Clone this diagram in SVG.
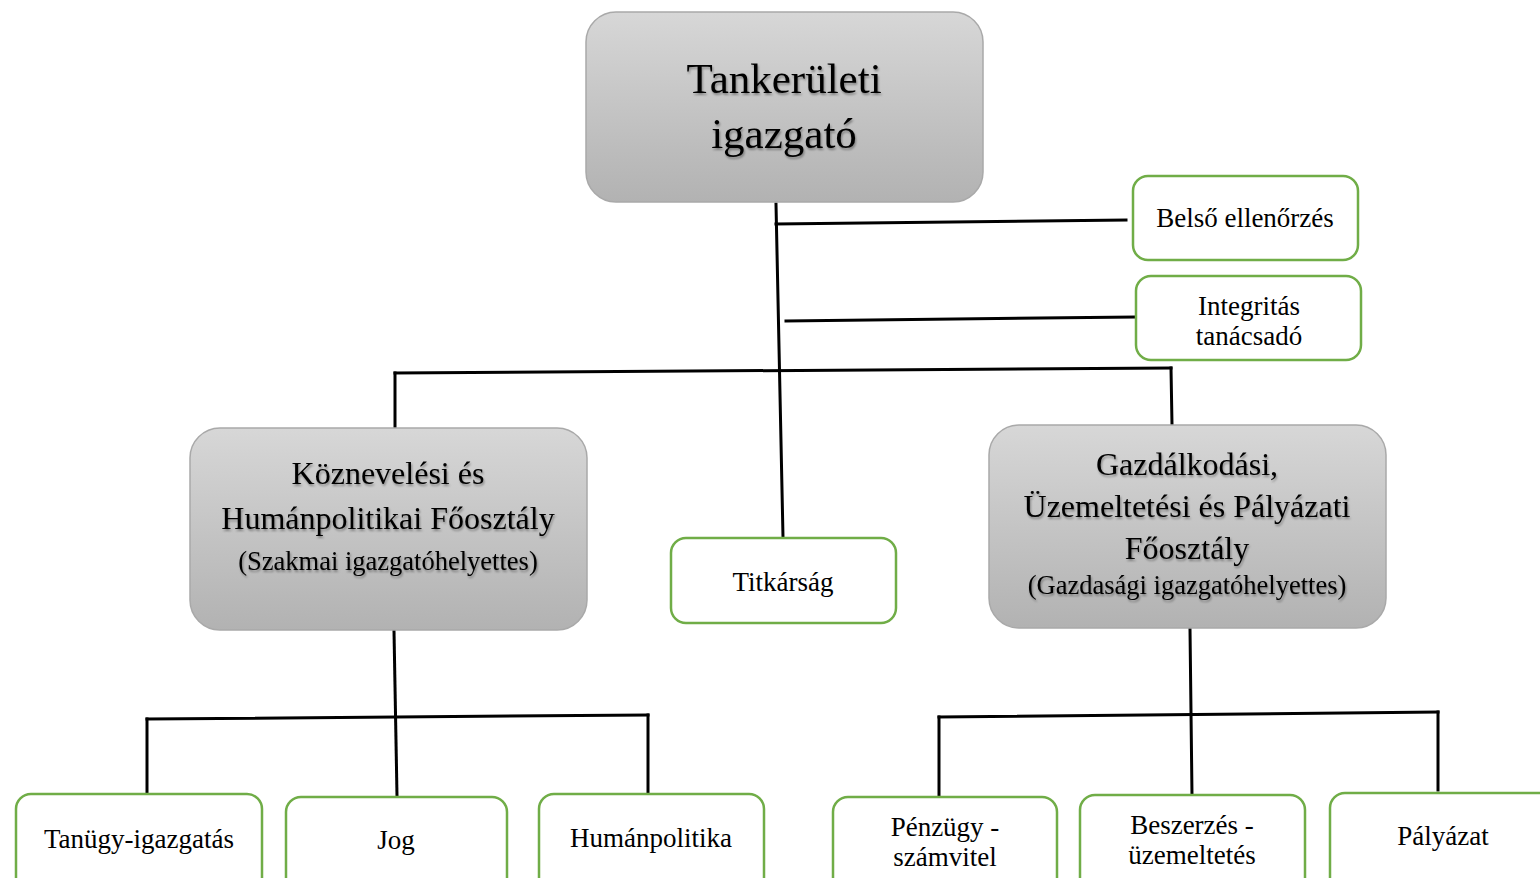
<svg xmlns="http://www.w3.org/2000/svg" width="1540" height="878" viewBox="0 0 1540 878">
<defs>
<linearGradient id="gray" x1="0" y1="0" x2="0" y2="1">
<stop offset="0" stop-color="#d7d7d7"/>
<stop offset="1" stop-color="#b2b2b2"/>
</linearGradient>
<filter id="ts" x="-10%" y="-20%" width="120%" height="150%">
<feDropShadow dx="1" dy="2" stdDeviation="1" flood-color="#000" flood-opacity="0.35"/>
</filter>
</defs>
<style>
.gray{fill:url(#gray);stroke:#a9a9a9;stroke-width:1.5}
.green{fill:#fff;stroke:#70ad47;stroke-width:2.5}
text{font-family:"Liberation Serif","Times New Roman",serif;fill:#000;text-anchor:middle}
.gt{filter:url(#ts)}
.s{font-size:27px}
.m{font-size:32px}
.sub{font-size:26.5px}
.c{stroke:#000;stroke-width:3;fill:none;stroke-linecap:square}
</style>
<rect width="1540" height="878" fill="#fff"/>
<g id="connectors">
<line class="c" x1="776" y1="204" x2="783" y2="537"/>
<line class="c" x1="776" y1="224" x2="1126" y2="220"/>
<line class="c" x1="786" y1="321" x2="1135" y2="317"/>
<line class="c" x1="395" y1="373" x2="1171" y2="368"/>
<line class="c" x1="395" y1="373" x2="395" y2="428"/>
<line class="c" x1="1171" y1="368" x2="1172" y2="424"/>
<line class="c" x1="394" y1="631" x2="397" y2="796"/>
<line class="c" x1="147" y1="719" x2="648" y2="715"/>
<line class="c" x1="147" y1="719" x2="147" y2="793"/>
<line class="c" x1="648" y1="715" x2="648" y2="794"/>
<line class="c" x1="1190" y1="629" x2="1192" y2="795"/>
<line class="c" x1="939" y1="717" x2="1438" y2="712"/>
<line class="c" x1="939" y1="717" x2="939" y2="796"/>
<line class="c" x1="1438" y1="712" x2="1438" y2="790"/>
</g>
<g id="n-igazgato">
<rect class="gray" x="586" y="12" width="397" height="190" rx="30"/>
<g class="gt" font-size="43"><text x="784" y="93">Tankerületi</text><text x="784" y="148">igazgató</text></g>
</g>
<g id="n-belso">
<rect class="green" x="1133" y="176" width="225" height="84" rx="15"/>
<text class="s" x="1245" y="227">Belső ellenőrzés</text>
</g>
<g id="n-integritas">
<rect class="green" x="1136" y="276" width="225" height="84" rx="15"/>
<text class="s" x="1249" y="315">Integritás</text>
<text class="s" x="1249" y="345">tanácsadó</text>
</g>
<g id="n-kozneveles">
<rect class="gray" x="190" y="428" width="397" height="202" rx="30"/>
<g class="gt"><text class="m" x="388" y="484">Köznevelési és</text>
<text class="m" x="388" y="529">Humánpolitikai Főosztály</text>
<text class="sub" x="388" y="570">(Szakmai igazgatóhelyettes)</text></g>
</g>
<g id="n-titkarsag">
<rect class="green" x="671" y="538" width="225" height="85" rx="15"/>
<text class="s" x="783" y="591">Titkárság</text>
</g>
<g id="n-gazdalkodasi">
<rect class="gray" x="989" y="425" width="397" height="203" rx="30"/>
<g class="gt"><text class="m" x="1187" y="475">Gazdálkodási,</text>
<text class="m" x="1187" y="517">Üzemeltetési és Pályázati</text>
<text class="m" x="1187" y="559">Főosztály</text>
<text class="sub" x="1187" y="594">(Gazdasági igazgatóhelyettes)</text></g>
</g>
<g id="n-tanugy">
<rect class="green" x="16" y="794" width="246" height="100" rx="15"/>
<text class="s" x="139" y="848">Tanügy-igazgatás</text>
</g>
<g id="n-jog">
<rect class="green" x="286" y="797" width="221" height="100" rx="15"/>
<text class="s" x="396" y="849">Jog</text>
</g>
<g id="n-human">
<rect class="green" x="539" y="794" width="225" height="100" rx="15"/>
<text class="s" x="651" y="847">Humánpolitika</text>
</g>
<g id="n-penzugy">
<rect class="green" x="833" y="797" width="224" height="100" rx="15"/>
<text class="s" x="945" y="836">Pénzügy -</text>
<text class="s" x="945" y="866">számvitel</text>
</g>
<g id="n-beszerzes">
<rect class="green" x="1080" y="795" width="225" height="100" rx="15"/>
<text class="s" x="1192" y="834">Beszerzés -</text>
<text class="s" x="1192" y="864">üzemeltetés</text>
</g>
<g id="n-palyazat">
<rect class="green" x="1330" y="793" width="240" height="100" rx="15"/>
<text class="s" x="1443" y="845">Pályázat</text>
</g>
</svg>
